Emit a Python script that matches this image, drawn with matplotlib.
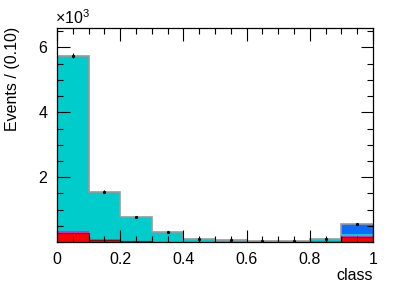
import numpy as np
import matplotlib
matplotlib.use('Agg')
from matplotlib import pyplot as plt
from matplotlib.ticker import MultipleLocator

plt.rcParams['font.family'] = ['Liberation Sans', 'DejaVu Sans']
plt.rcParams['mathtext.fontset'] = 'custom'
plt.rcParams['mathtext.rm'] = 'Liberation Sans'
plt.rcParams['mathtext.it'] = 'Liberation Sans'

# bin edges of the "class" variable
edges = [0.0, 0.1, 0.2, 0.3, 0.4, 0.5, 0.6, 0.7, 0.8, 0.9, 1.0]

# stacked components, bottom to top
red = [290, 70, 20, 8, 4, 3, 3, 4, 15, 150]
magenta = [50, 20, 15, 5, 3, 2, 2, 3, 25, 50]
cyan = [5410, 1460, 740, 290, 85, 45, 35, 28, 40, 55]
blue = [0, 0, 0, 0, 0, 0, 0, 0, 20, 285]

# data points and their errors
data = [5750, 1550, 775, 303, 92, 50, 40, 35, 100, 540]
data_err = [80, 40, 28, 18, 10, 7, 6, 6, 10, 23]

xticks = [0, 0.2, 0.4, 0.6, 0.8, 1.0]
xtick_labels = ['0', '0.2', '0.4', '0.6', '0.8', '1']
yticks = [2000, 4000, 6000]
ytick_labels = ['2', '4', '6']

components = [red, magenta, cyan, blue]
colors = ['#ff0000', '#cc33cc', '#00cccc', '#0a6bff']

fig = plt.figure(figsize=(4.15, 2.82), dpi=100)
ax = fig.add_axes([57/415, 1-242/282, (373-57)/415, (242-28)/282])

edges = np.array(edges)
widths = np.diff(edges)
bottom = np.zeros(len(widths))
for vals, c in zip(components, colors):
    vals = np.array(vals, dtype=float)
    ax.bar(edges[:-1], vals, width=widths, bottom=bottom, align='edge',
           color=c, linewidth=0)
    bottom += vals

# thin dark red line on top of the red part
ax.stairs(red, edges, color='#990000', linewidth=0.8, baseline=None)

# grey outline of the total
ax.stairs(bottom, edges, color='#999999', linewidth=1.2, baseline=None)

centers = 0.5 * (edges[:-1] + edges[1:])
ax.errorbar(centers, data, yerr=data_err, fmt='o', color='black',
            markersize=1.3, elinewidth=0.8, capsize=0)

ax.set_xlim(0, 1)
ax.set_ylim(0, 6600)

ax.set_xticks(xticks)
ax.set_xticklabels(xtick_labels)
ax.xaxis.set_minor_locator(MultipleLocator(0.05))
ax.set_yticks(yticks)
ax.set_yticklabels(ytick_labels)
ax.yaxis.set_minor_locator(MultipleLocator(500))

ax.tick_params(which='both', direction='in', top=True, right=True,
               labelsize=11.5, width=0.8)
ax.tick_params(which='major', length=9, pad=7)
ax.tick_params(which='minor', length=4.5)

for s in ax.spines.values():
    s.set_linewidth(0.9)

ax.set_xlabel('class', loc='right', fontsize=11.5, labelpad=1)
fig.text(13/415, 1-27/282, 'Events / (0.10)', rotation=90, fontsize=11.5,
         ha='center', va='top')

fig.text(55/415, 1-27/282, r'$\times10^{3}$', fontsize=11.5, ha='left', va='bottom')

fig.savefig('out.png', dpi=100)
